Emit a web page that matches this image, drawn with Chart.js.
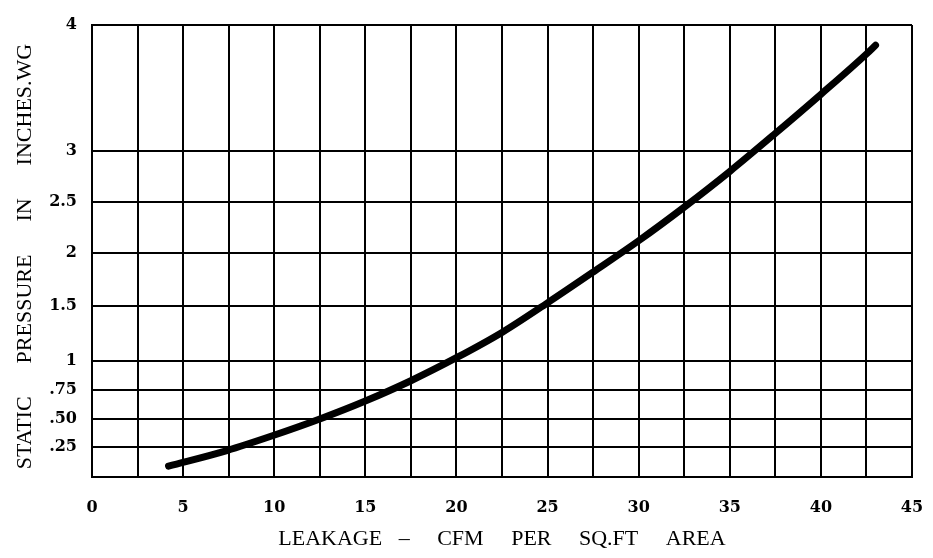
<!DOCTYPE html>
<html>
<head>
<meta charset="utf-8">
<script src="https://cdn.jsdelivr.net/npm/chart.js@4/dist/chart.umd.min.js"></script>
<style>
  html, body { margin: 0; padding: 0; background: #fff; }
  #wrap { width: 933px; height: 558px; }
</style>
</head>
<body>
<div id="wrap"><canvas id="c" width="933" height="558"></canvas></div>
<script>
// ---- data ----
const leakage  = [4.2, 7.4, 9.9, 12.5, 15.0, 17.5, 20.0, 22.5, 25.0, 27.5, 30.0, 32.5, 35.0, 37.5, 40.0, 42.5, 43.0];
const pressure = [0.09, 0.22, 0.35, 0.50, 0.655, 0.83, 1.03, 1.26, 1.53, 1.82, 2.12, 2.45, 2.80, 3.14, 3.45, 3.77, 3.84];
const yTickValues = [0.25, 0.5, 0.75, 1, 1.5, 2, 2.5, 3, 4];
const yTickLabels = ['.25', '.50', '.75', '1', '1.5', '2', '2.5', '3', '4'];
const xTickLabelEvery = 5;
const xTitle = 'LEAKAGE   \u2013     CFM     PER     SQ.FT     AREA';
const yTitle = 'STATIC      PRESSURE      IN      INCHES.WG  ';

// Non-uniform printed pressure axis: piecewise-linear scale (value breakpoints -> fraction of axis height)
class PiecewiseScale extends Chart.LinearScale {
  _toFrac(v) {
    const b = this.options.breaks, f = this.options.fractions;
    if (v <= b[0]) return f[0];
    for (let i = 1; i < b.length; i++) {
      if (v <= b[i]) return f[i-1] + (v - b[i-1]) / (b[i] - b[i-1]) * (f[i] - f[i-1]);
    }
    return f[f.length-1];
  }
  _fromFrac(d) {
    const b = this.options.breaks, f = this.options.fractions;
    for (let i = 1; i < f.length; i++) {
      if (d <= f[i]) return b[i-1] + (d - f[i-1]) / (f[i] - f[i-1]) * (b[i] - b[i-1]);
    }
    return b[b.length-1];
  }
  getPixelForValue(value) {
    return value === null ? NaN : this.getPixelForDecimal(this._toFrac(value));
  }
  getValueForPixel(pixel) {
    return this._fromFrac(this.getDecimalForPixel(pixel));
  }
}
PiecewiseScale.id = 'piecewise';
PiecewiseScale.defaults = Chart.LinearScale.defaults;
Chart.register(PiecewiseScale);

const points = leakage.map((x, i) => ({ x: x, y: pressure[i] }));
const serif = "'Liberation Serif', 'Times New Roman', serif";
const tickFont = { family: "'DejaVu Serif', serif", size: 16, weight: 'bold' };

new Chart(document.getElementById('c'), {
  type: 'scatter',
  data: {
    datasets: [{
      data: points,
      showLine: true,
      borderColor: '#000',
      backgroundColor: '#000',
      borderWidth: 7,
      borderCapStyle: 'round',
      borderJoinStyle: 'round',
      cubicInterpolationMode: 'monotone',
      pointRadius: 0
    }]
  },
  options: {
    responsive: false,
    animation: false,
    devicePixelRatio: 1,
    layout: { padding: { top: 25, right: 21, bottom: 0, left: 0 } },
    plugins: { legend: { display: false }, tooltip: { enabled: false } },
    scales: {
      x: {
        type: 'linear',
        min: 0, max: 45,
        afterFit: s => { s.height = 81; },
        grid: { color: '#000', lineWidth: 2, drawTicks: true, tickLength: 21, tickColor: 'rgba(0,0,0,0)' },
        border: { color: '#000', width: 2 },
        ticks: {
          stepSize: 2.5,
          autoSkip: false,
          maxRotation: 0,
          padding: 0,
          color: '#000',
          font: tickFont,
          callback: v => (v % xTickLabelEvery === 0 ? String(v) : '')
        },
        title: {
          display: true,
          text: xTitle,
          color: '#000',
          font: { family: serif, size: 22 },
          padding: { top: 0, bottom: 6 }
        }
      },
      y: {
        type: 'piecewise',
        min: 0, max: 4,
        breaks:    [0, 0.25, 0.5, 0.75, 1, 1.5, 2, 2.5, 3, 4],
        fractions: [0, 0.0664, 0.1283, 0.1925, 0.2566, 0.3783, 0.4956, 0.6084, 0.7212, 1],
        afterFit: s => { s.width = 92; },
        afterBuildTicks: s => { s.ticks = yTickValues.map(v => ({ value: v })); },
        grid: { color: '#000', lineWidth: 2, drawTicks: false },
        border: { color: '#000', width: 2 },
        ticks: {
          autoSkip: false,
          padding: 15,
          color: '#000',
          font: tickFont,
          callback: (v, i) => yTickLabels[i]
        },
        title: {
          display: true,
          text: yTitle,
          color: '#000',
          font: { family: serif, size: 22 },
          padding: { top: 12, bottom: 0 }
        }
      }
    }
  }
});
</script>
</body>
</html>
